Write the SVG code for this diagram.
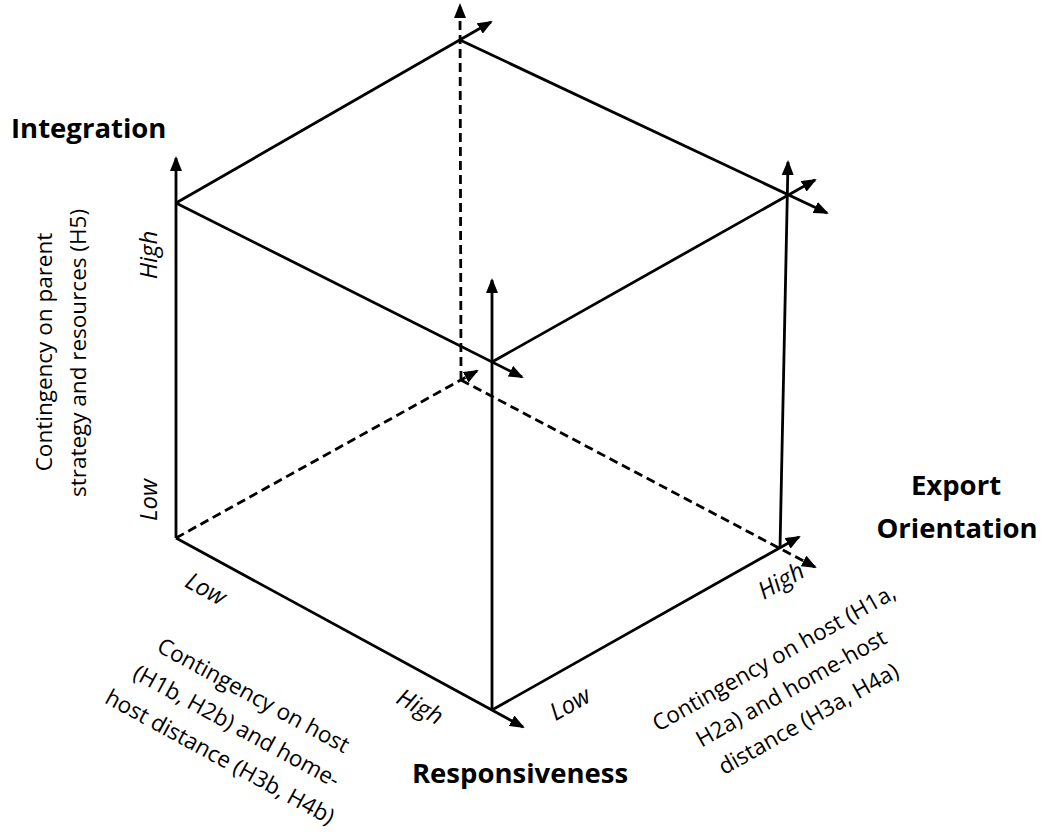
<svg xmlns="http://www.w3.org/2000/svg" width="1043" height="834" viewBox="0 0 1043 834">
<style>
.ln{stroke:#000;stroke-width:2.8;fill:none}
.ds{stroke-dasharray:9 5}
.ar{marker-end:url(#ah)}
.t{font-family:"Open Sans","Liberation Sans",sans-serif;fill:#000}
.lbl{font-size:22.5px;text-anchor:middle}
.it{font-size:24px;font-style:italic;text-anchor:middle}
.bd{font-size:27.5px;font-weight:bold}
</style>
<defs>
<marker id="ah" markerUnits="userSpaceOnUse" viewBox="0 0 15 12" refX="13" refY="6" markerWidth="15" markerHeight="12" orient="auto">
<path d="M0,0 L15,6 L0,12 Z" fill="#000"/>
</marker>
</defs>
<rect width="1043" height="834" fill="#fff"/>
<g id="connectors">
<line class="ln ar" x1="176" y1="538" x2="176" y2="158"/>
<line class="ln ar" x1="176" y1="538" x2="523" y2="727"/>
<line class="ln ar" x1="492" y1="710" x2="492" y2="280"/>
<line class="ln ar" x1="492" y1="710" x2="799" y2="537"/>
<line class="ln ar" x1="780" y1="548" x2="788" y2="162"/>
<line class="ln ar" x1="176" y1="203" x2="522" y2="377"/>
<line class="ln ar" x1="492" y1="362" x2="815" y2="180"/>
<line class="ln ar" x1="176" y1="203" x2="491" y2="22"/>
<line class="ln ar" x1="460" y1="40" x2="827" y2="213"/>
<line class="ln ds ar" x1="461" y1="380" x2="460" y2="5"/>
<line class="ln ds ar" x1="176" y1="538" x2="477" y2="371"/>
<line class="ln ds ar" x1="461" y1="380" x2="815" y2="567"/>
</g>
<g id="axis-integration">
<text class="t bd" x="11" y="138">Integration</text>
<text class="t lbl" transform="translate(52,352) rotate(-90)">Contingency on parent</text>
<text class="t lbl" transform="translate(86,353) rotate(-90)">strategy and resources (H5)</text>
<text class="t it" transform="translate(157,255) rotate(-90)">High</text>
<text class="t it" transform="translate(157,500) rotate(-90)">Low</text>
</g>
<g id="axis-responsiveness">
<text class="t bd" x="520" y="783" text-anchor="middle">Responsiveness</text>
<text class="t it" transform="translate(202,596) rotate(28.6)">Low</text>
<text class="t it" transform="translate(416,714) rotate(28.6)">High</text>
<g transform="translate(233,733) rotate(28.6)">
<text class="t lbl" y="-35">Contingency on host</text>
<text class="t lbl" y="0">(H1b, H2b) and home-</text>
<text class="t lbl" y="35">host distance (H3b, H4b)</text>
</g>
</g>
<g id="axis-export">
<text class="t bd" x="956" y="495" text-anchor="middle">Export</text>
<text class="t bd" x="957" y="538" text-anchor="middle">Orientation</text>
<text class="t it" transform="translate(574,711) rotate(-29.4)">Low</text>
<text class="t it" transform="translate(785,588) rotate(-29.4)">High</text>
<g transform="translate(795,695) rotate(-29.4)">
<text class="t lbl" y="-35">Contingency on host (H1a,</text>
<text class="t lbl" y="0">H2a) and home-host</text>
<text class="t lbl" y="35">distance (H3a, H4a)</text>
</g>
</g>
</svg>
